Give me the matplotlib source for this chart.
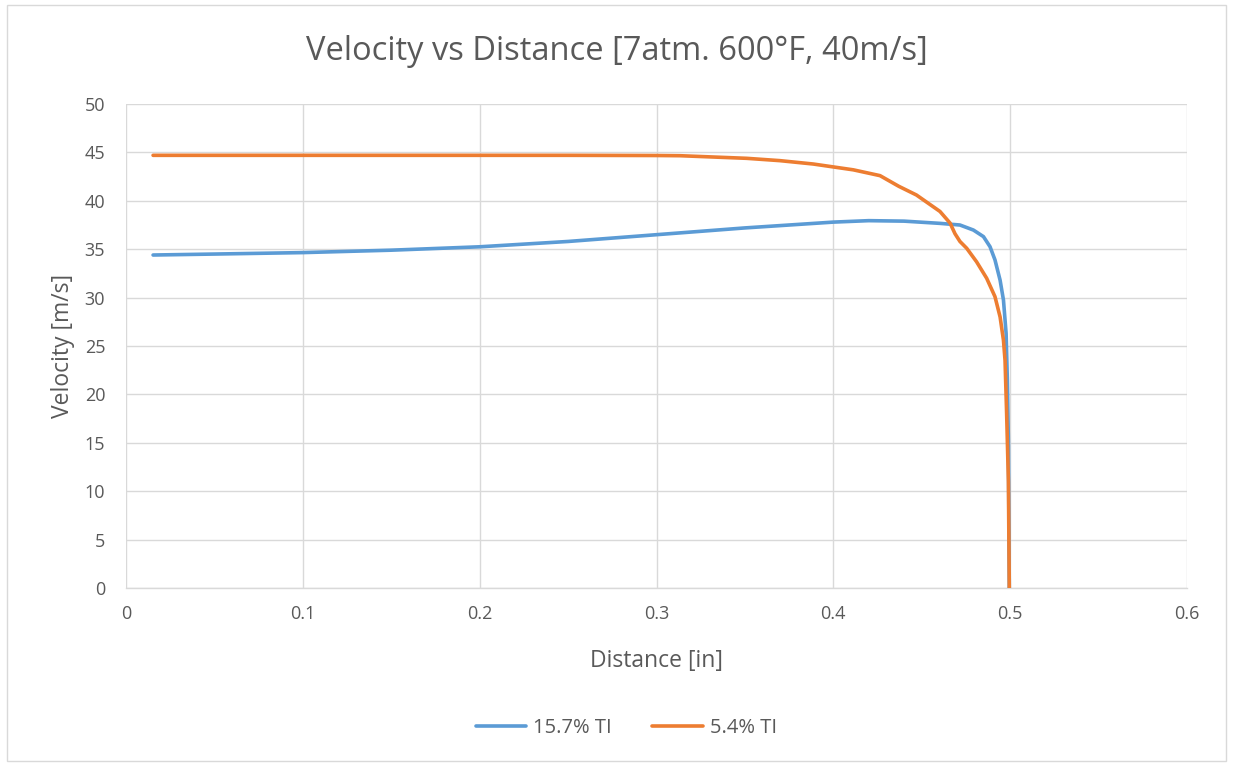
import matplotlib
matplotlib.use("Agg")
import matplotlib.pyplot as plt
from matplotlib.patches import Rectangle

# Velocity profiles for two turbulence intensities
dist_ti157 = [0.0153, 0.05, 0.10, 0.15, 0.20, 0.25, 0.30, 0.35, 0.40, 0.42, 0.44,
              0.4603, 0.4716, 0.4792, 0.4849, 0.4886, 0.4914, 0.4943, 0.4962, 0.4977,
              0.4984, 0.4990, 0.4995]
vel_ti157 = [34.4, 34.5, 34.65, 34.9, 35.25, 35.8, 36.5, 37.2, 37.8, 37.95, 37.9,
             37.67, 37.5, 36.98, 36.3, 35.26, 33.9, 31.8, 29.75, 26.3,
             21.5, 15.0, 0.0]

dist_ti54 = [0.0153, 0.05, 0.10, 0.15, 0.20, 0.25, 0.30, 0.3133, 0.351, 0.3698, 0.3887,
             0.40, 0.4113, 0.4264, 0.437, 0.447, 0.4603, 0.466, 0.4688, 0.4716, 0.4754,
             0.481, 0.4867, 0.4914, 0.4943, 0.4962, 0.4971, 0.4980, 0.4990, 0.4995]
vel_ti54 = [44.7, 44.7, 44.7, 44.7, 44.7, 44.7, 44.68, 44.66, 44.39, 44.15, 43.8,
            43.5, 43.2, 42.6, 41.5, 40.6, 38.9, 37.7, 36.6, 35.8, 35.1,
            33.7, 32.0, 30.1, 28.0, 25.6, 23.5, 18.0, 11.0, 0.0]

series_labels = ["15.7% TI", "5.4% TI"]
x_ticks = [0, 0.1, 0.2, 0.3, 0.4, 0.5, 0.6]
x_tick_labels = ["0", "0.1", "0.2", "0.3", "0.4", "0.5", "0.6"]
y_ticks = list(range(0, 51, 5))

TEXT = "#595959"
GRID = "#D9D9D9"
BLUE = "#5B9BD5"
ORANGE = "#ED7D31"

plt.rcParams["font.family"] = ["Open Sans", "DejaVu Sans"]

fig = plt.figure(figsize=(12.33, 7.66), dpi=100)
fig.patches.append(Rectangle((0.006, 0.007), 0.988, 0.986, transform=fig.transFigure,
                             fill=False, edgecolor=GRID, linewidth=1.0))

ax = fig.add_axes([0.1022, 0.2324, 0.8605, 0.6318])
ax.plot(dist_ti157, vel_ti157, color=BLUE, linewidth=2.6, label=series_labels[0],
        solid_capstyle="round", solid_joinstyle="round", zorder=3)
ax.plot(dist_ti54, vel_ti54, color=ORANGE, linewidth=2.6, label=series_labels[1],
        solid_capstyle="round", solid_joinstyle="round", zorder=3)

ax.set_xlim(0, 0.6)
ax.set_ylim(0, 50)
ax.set_xticks(x_ticks)
ax.set_xticklabels(x_tick_labels)
ax.set_yticks(y_ticks)
ax.grid(True, color=GRID, linewidth=1.0)
ax.set_axisbelow(True)
for side in ["top", "right", "left"]:
    ax.spines[side].set_visible(False)
ax.spines["bottom"].set_color(GRID)
ax.spines["bottom"].set_linewidth(1.0)
ax.tick_params(axis="both", length=0, labelsize=13, colors=TEXT)
ax.tick_params(axis="y", pad=15)
ax.tick_params(axis="x", pad=12)

ax.set_xlabel("Distance [in]", fontsize=16.5, color=TEXT, labelpad=19)
ax.set_ylabel("Velocity [m/s]", fontsize=16.5, color=TEXT, labelpad=7)
fig.text(0.5, 0.933, "Velocity vs Distance [7atm. 600°F, 40m/s]", ha="center",
         va="center", fontsize=23.5, color=TEXT)

leg = fig.legend(loc="center", bbox_to_anchor=(0.508, 0.049), ncol=2, frameon=False,
                 fontsize=14.5, handlelength=2.5, handletextpad=0.35, columnspacing=2.0)
for t in leg.get_texts():
    t.set_color(TEXT)

fig.savefig("out.png", dpi=100)
